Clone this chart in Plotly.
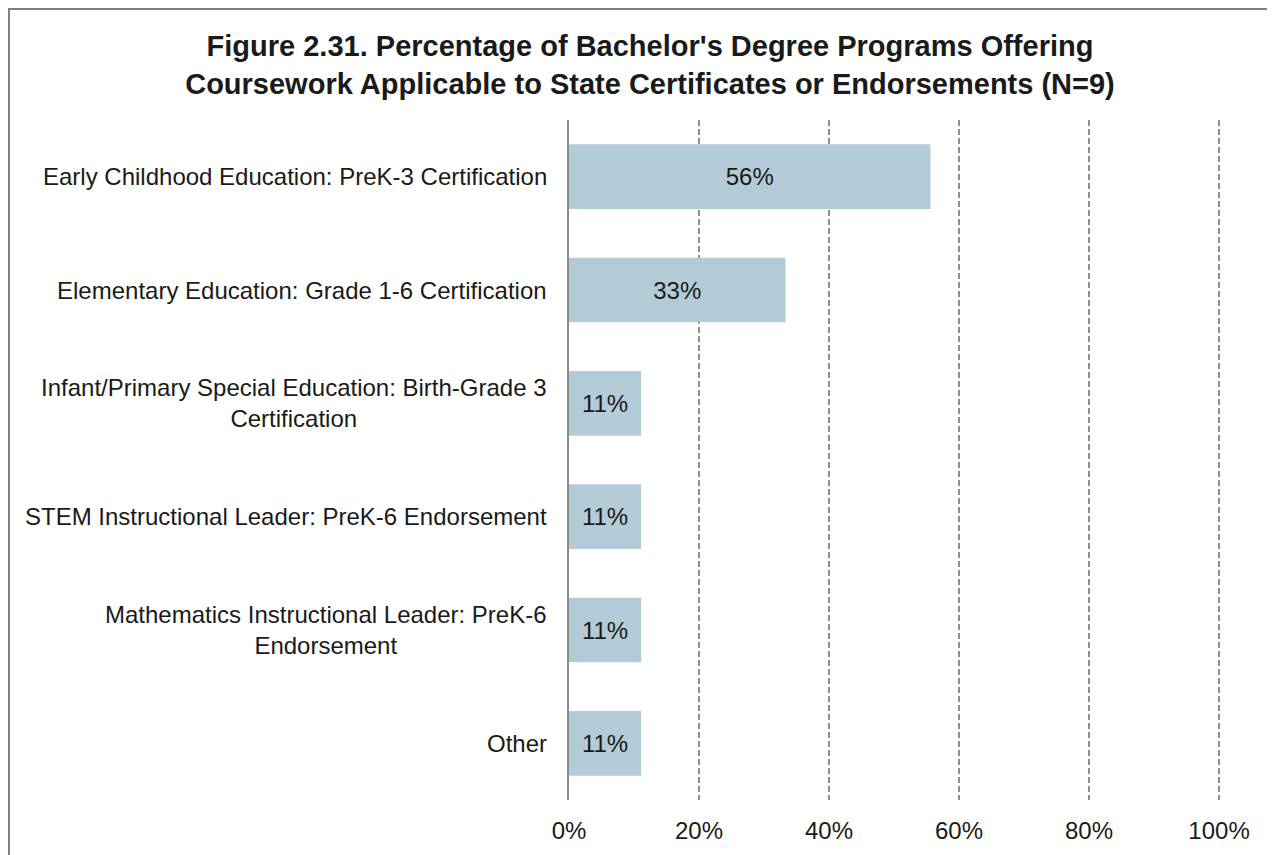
import plotly.graph_objects as go

categories = [
    "Early Childhood Education: PreK-3 Certification",
    "Elementary Education: Grade 1-6 Certification",
    "Infant/Primary Special Education: Birth-Grade 3<br>Certification",
    "STEM Instructional Leader: PreK-6 Endorsement",
    "Mathematics Instructional Leader: PreK-6<br>Endorsement",
    "Other",
]
values = [55.6, 33.3, 11.1, 11.1, 11.1, 11.1]
bar_labels = ["56%", "33%", "11%", "11%", "11%", "11%"]
tick_vals = [0, 20, 40, 60, 80, 100]
tick_text = ["0%", "20%", "40%", "60%", "80%", "100%"]

FONT = "Liberation Sans, Arial, sans-serif"
TXT = "#1a1a1a"

# page body has an 8px margin; layout is compensated for it
L, R, T, B = 561, 62, 112, 63
W, H = 1275, 855
PW = W - L - R
PH = H - T - B

fig = go.Figure()
fig.add_trace(go.Bar(
    x=values, y=categories, orientation="h",
    marker=dict(color="#B3CAD7", line=dict(width=0)),
    width=0.57,
    text=bar_labels, textposition="inside", insidetextanchor="middle",
    textfont=dict(family=FONT, size=24, color=TXT),
    hoverinfo="skip",
))

for c in categories:
    fig.add_annotation(
        x=0, y=c, xref="x", yref="y", text=c, showarrow=False,
        xanchor="right", yanchor="middle", align="center", xshift=-20,
        font=dict(family=FONT, size=24, color=TXT),
    )

fig.update_layout(
    width=W, height=H,
    margin=dict(l=L, r=R, t=T, b=B),
    paper_bgcolor="white", plot_bgcolor="white",
    showlegend=False,
    title=dict(
        text="<b>Figure 2.31. Percentage of Bachelor's Degree Programs Offering<br>Coursework Applicable to State Certificates or Endorsements (N=9)</b>",
        x=642/W, xanchor="center", y=1-48/H, yanchor="middle",
        font=dict(family=FONT, size=29, color=TXT),
    ),
    xaxis=dict(
        range=[0, 100.3], tickvals=tick_vals, ticktext=tick_text,
        showgrid=True, gridcolor="#8f8f8f", gridwidth=1.5, griddash="6px,3px",
        zeroline=False, showline=False, ticks="",
        ticklabelstandoff=14,
        tickfont=dict(family=FONT, size=24, color=TXT),
        fixedrange=True,
    ),
    yaxis=dict(
        categoryorder="array", categoryarray=categories, autorange="reversed",
        showticklabels=False, showgrid=False, zeroline=False,
        showline=True, linecolor="#8a8a8a", linewidth=2, ticks="",
        fixedrange=True,
    ),
    shapes=[dict(
        type="rect", xref="paper", yref="paper",
        x0=(0.5 - L) / PW, x1=(W + 20 - L) / PW,
        y0=-(B + 20) / PH, y1=(H - B - 0.5) / PH,
        line=dict(color="#808080", width=3), fillcolor="rgba(0,0,0,0)",
        layer="above",
    )],
)

fig.write_html("out.html")
